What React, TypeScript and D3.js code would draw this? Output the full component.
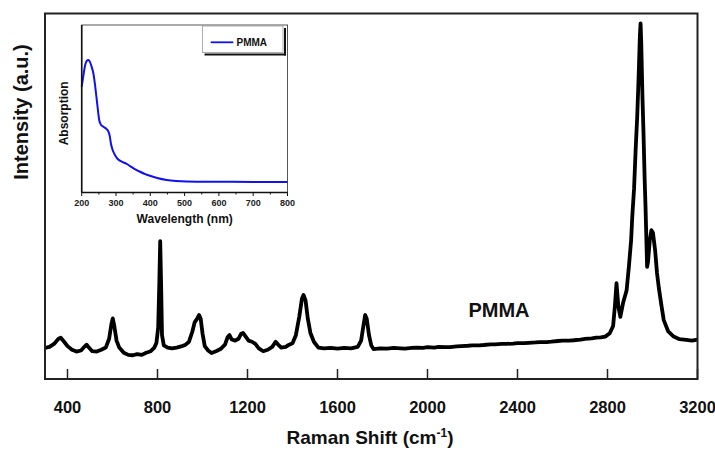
import React from "react";
import * as d3 from "d3";

// Raman spectrum of PMMA (Raman shift cm^-1, intensity a.u.)
const ramanShift: number[] = [
  300, 320, 340, 360, 370, 385, 400, 420, 440, 460, 475, 485, 495, 510, 530, 550, 570, 585, 595, 601,
  608, 618, 630, 650, 670, 690, 710, 730, 750, 770, 785, 795, 803, 808, 812, 816, 820, 828, 845, 865,
  885, 905, 925, 940, 955, 965, 975, 985, 992, 1000, 1010, 1025, 1040, 1060, 1080, 1100, 1112, 1120, 1130, 1145,
  1160, 1172, 1180, 1192, 1205, 1220, 1235, 1250, 1270, 1290, 1310, 1325, 1335, 1350, 1370, 1385, 1400, 1415, 1430, 1442,
  1449, 1458, 1468, 1480, 1495, 1515, 1540, 1570, 1600, 1630, 1660, 1690, 1705, 1715, 1723, 1730, 1740, 1750, 1760, 1790,
  1820, 1850, 1880, 1900, 1930, 1950, 1980, 2000, 2030, 2050, 2080, 2100, 2130, 2150, 2180, 2200, 2230, 2250, 2280, 2300,
  2330, 2350, 2380, 2400, 2430, 2450, 2480, 2500, 2530, 2550, 2580, 2600, 2630, 2650, 2680, 2700, 2730, 2750, 2770, 2790,
  2810, 2825, 2833, 2840, 2848, 2857, 2870, 2885, 2895, 2905, 2910, 2918, 2925, 2932, 2938, 2944, 2947, 2950, 2955, 2960,
  2965, 2969, 2976, 2980, 2988, 2995, 3002, 3012, 3020, 3028, 3040, 3050, 3070, 3094, 3120, 3150, 3175, 3200,
];
const ramanIntensity: number[] = [
  8.5, 8.8, 9.6, 11.0, 11.3, 10.2, 9.0, 8.0, 7.5, 7.8, 8.8, 9.4, 8.6, 7.6, 7.5, 8.0, 8.6, 11.0, 15.0, 16.6,
  14.5, 10.5, 8.6, 7.2, 6.6, 6.5, 6.8, 6.6, 7.2, 7.6, 8.5, 9.8, 14.0, 26.0, 37.7, 26.0, 12.0, 9.2, 8.6, 8.4,
  8.6, 8.9, 9.4, 10.2, 13.0, 15.5, 16.4, 17.5, 16.5, 12.5, 9.0, 7.8, 7.1, 7.6, 8.2, 9.4, 11.5, 12.0, 10.8, 10.5,
  11.0, 12.4, 12.6, 11.6, 10.5, 10.2, 9.6, 8.4, 7.6, 8.0, 8.8, 10.2, 9.5, 8.6, 8.8, 9.4, 9.8, 12.0, 17.0, 22.0,
  23.0, 21.5, 16.5, 12.5, 10.2, 8.6, 8.4, 8.5, 8.3, 8.5, 8.4, 8.8, 10.5, 14.5, 17.5, 16.5, 12.0, 9.2, 8.2, 8.4,
  8.3, 8.5, 8.4, 8.3, 8.5, 8.6, 8.5, 8.7, 8.6, 8.8, 8.7, 8.7, 8.9, 9.0, 9.1, 9.2, 9.2, 9.3, 9.5, 9.5,
  9.6, 9.6, 9.7, 9.8, 9.8, 9.9, 10.0, 10.1, 10.1, 10.2, 10.4, 10.5, 10.5, 10.6, 10.8, 11.0, 11.1, 11.3, 11.4, 11.6,
  12.5, 14.5, 20.0, 26.2, 20.0, 17.0, 21.0, 24.3, 30.7, 38.0, 44.3, 52.0, 62.6, 71.7, 82.0, 94.0, 97.3, 92.0, 78.0, 67.2,
  55.0, 47.1, 30.7, 32.0, 38.0, 40.7, 40.0, 35.0, 29.0, 25.0, 20.0, 16.1, 13.0, 11.6, 10.9, 10.7, 10.5, 10.8,
];
const ramanTicks: number[] = [400, 800, 1200, 1600, 2000, 2400, 2800, 3200];

// Inset: UV-Vis absorption of PMMA
const wavelength: number[] = [
  200, 205, 210, 215, 219, 224, 229, 234, 239, 244, 248, 251, 256, 263, 270, 278, 282, 285, 290, 297,
  305, 317, 330, 341, 355, 370, 385, 399, 420, 448, 475, 506, 600, 700, 800,
];
const absorption: number[] = [
  0.632, 0.70, 0.76, 0.787, 0.791, 0.78, 0.75, 0.712, 0.64, 0.552, 0.48, 0.433, 0.405, 0.393, 0.383, 0.363, 0.335, 0.294, 0.255, 0.224,
  0.200, 0.184, 0.172, 0.158, 0.140, 0.124, 0.110, 0.100, 0.087, 0.075, 0.069, 0.066, 0.064, 0.063, 0.063,
];
const insetMajorTicks: number[] = [200, 300, 400, 500, 600, 700, 800];
const insetMinorTicks: number[] = [250, 350, 450, 550, 650, 750];

const FONT = "'Liberation Sans', Arial, Helvetica, sans-serif";

export default function App() {
  const W = 715, H = 452;
  const m = { left: 45, right: 697.5, top: 13.5, bottom: 379 };
  const x = d3.scaleLinear().domain([300, 3200]).range([m.left, m.right]);
  const y = d3.scaleLinear().domain([0, 100]).range([m.bottom, m.top]);
  const ramanData = ramanShift.map((s, i) => [s, ramanIntensity[i]] as [number, number]);
  const line = d3.line<[number, number]>().x(d => x(d[0])).y(d => y(d[1]));

  const ins = { left: 81.7, right: 287.5, top: 25, bottom: 192.5 };
  const ix = d3.scaleLinear().domain([200, 800]).range([ins.left, ins.right]);
  const iy = d3.scaleLinear().domain([0, 1]).range([ins.bottom, ins.top]);
  const insetData = wavelength.map((w, i) => [w, absorption[i]] as [number, number]);
  const iline = d3.line<[number, number]>().x(d => ix(d[0])).y(d => iy(d[1])).curve(d3.curveMonotoneX);

  return (
    <svg width={W} height={H} style={{ position: "absolute", left: 0, top: 0, background: "#fff" }} fontFamily={FONT}>
      <defs>
        <clipPath id="mainClip">
          <rect x={m.left} y={m.top} width={m.right - m.left} height={m.bottom - m.top} />
        </clipPath>
      </defs>
      {/* main curve */}
      <path d={line(ramanData) || ""} fill="none" stroke="#000" strokeWidth={3.8} strokeLinejoin="round" clipPath="url(#mainClip)" />
      {/* ticks */}
      {ramanTicks.map(t => (
        <g key={t}>
          <line x1={x(t)} x2={x(t)} y1={m.bottom} y2={m.bottom - 10} stroke="#222" strokeWidth={1.5} />
          <text x={x(t)} y={413} textAnchor="middle" fontSize={16.5} fontWeight="bold" fill="#111">{t}</text>
        </g>
      ))}
      {/* frame */}
      <rect x={m.left} y={m.top} width={m.right - m.left} height={m.bottom - m.top} fill="none" stroke="#222" strokeWidth={2} />
      {/* axis titles */}
      <text x={370} y={444} textAnchor="middle" fontSize={19} fontWeight="bold" fill="#111">
        Raman Shift (cm<tspan dy={-7} fontSize={12}>-1</tspan><tspan dy={7}>)</tspan>
      </text>
      <text transform={`translate(27.5,112) rotate(-90)`} textAnchor="middle" fontSize={20} fontWeight="bold" fill="#111">Intensity (a.u.)</text>
      <text x={499} y={317} textAnchor="middle" fontSize={20} fontWeight="bold" fill="#111">PMMA</text>

      {/* inset */}
      <rect x={ins.left} y={ins.top} width={ins.right - ins.left} height={ins.bottom - ins.top} fill="#fff" stroke="#555" strokeWidth={1} />
      <path d={iline(insetData) || ""} fill="none" stroke="#1010f0" strokeWidth={2} />
      <line x1={ins.left} x2={ins.left} y1={ins.top} y2={ins.bottom} stroke="#111" strokeWidth={1.6} />
      <line x1={ins.left} x2={ins.right} y1={ins.bottom} y2={ins.bottom} stroke="#111" strokeWidth={1.6} />
      {insetMajorTicks.map(t => (
        <g key={t}>
          <line x1={ix(t)} x2={ix(t)} y1={ins.bottom} y2={ins.bottom + 3.5} stroke="#111" strokeWidth={1} />
          <text x={ix(t)} y={205.5} textAnchor="middle" fontSize={9} fontWeight="bold" fill="#222">{t}</text>
        </g>
      ))}
      {insetMinorTicks.map(t => (
        <line key={t} x1={ix(t)} x2={ix(t)} y1={ins.bottom} y2={ins.bottom + 2} stroke="#111" strokeWidth={1} />
      ))}
      <text x={184.7} y={222.5} textAnchor="middle" fontSize={12} fontWeight="bold" fill="#111">Wavelength (nm)</text>
      <text transform={`translate(67.5,113.3) rotate(-90)`} textAnchor="middle" fontSize={12} fontWeight="bold" fill="#111">Absorption</text>
      {/* legend */}
      <line x1={204.5} x2={286} y1={54.5} y2={54.5} stroke="#111" strokeWidth={2} />
      <line x1={285} x2={285} y1={28} y2={55.5} stroke="#111" strokeWidth={2} />
      <rect x={202.5} y={26} width={80.5} height={26.5} fill="#fff" stroke="#999" strokeWidth={0.8} />
      <line x1={210.7} x2={233.3} y1={42.3} y2={42.3} stroke="#1010f0" strokeWidth={1.8} />
      <text x={236.5} y={46} fontSize={10} fontWeight="bold" fill="#111">PMMA</text>
    </svg>
  );
}
